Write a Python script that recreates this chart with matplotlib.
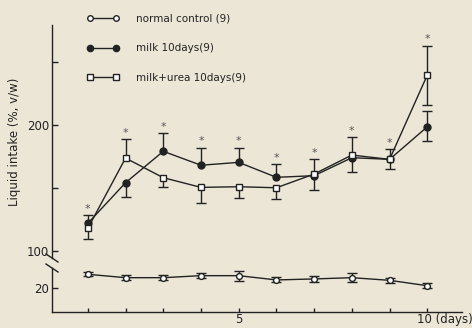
import matplotlib
matplotlib.use("Agg")
import matplotlib.pyplot as plt
import numpy as np
from matplotlib.lines import Line2D
from matplotlib.transforms import ScaledTranslation

nan = np.nan
days = np.arange(1, 11)

control = [30.9, 28.2, 28.2, 29.8, 29.8, 26.4, 27.2, 28.2, 26.1, 21.8]
control_err = [1.5, 1.8, 2.2, 2.0, 4.0, 2.0, 2.2, 3.8, 2.0, 2.2]

# error bars drawn only on one side for most days (nan = not drawn)
milk = [121.8, 154.1, 179.1, 168.0, 170.3, 158.4, 159.7, 174.0, 172.7, 198.6]
milk_up = [6.6, nan, 14.3, 13.9, 11.6, 10.3, nan, nan, 8.0, 12.8]
milk_lo = [nan, 11.1, nan, nan, nan, nan, 11.4, 11.2, nan, 11.1]

urea = [117.8, 173.7, 158.1, 150.4, 150.9, 150.1, 161.0, 176.1, 172.7, 239.8]
urea_up = [nan, 15.2, nan, nan, nan, nan, 11.7, 14.1, nan, 23.3]
urea_lo = [8.5, nan, 7.2, 12.2, 9.2, 9.2, nan, nan, 8.0, 24.1]

labels = ["normal control (9)", "milk 10days(9)", "milk+urea 10days(9)"]

bg = "#ece6d7"
ink = "#222222"

plt.rcParams["font.family"] = "DejaVu Sans"
fig = plt.figure(figsize=(4.72, 3.28), dpi=100, facecolor=bg)
W, H = 472.0, 328.0
left, right = 52 / W, 462 / W
ax = fig.add_axes([left, (H - 258) / H, right - left, (258 - 25) / H], facecolor=bg)
axl = fig.add_axes([left, (H - 312) / H, right - left, (312 - 268) / H], facecolor=bg, sharex=ax)


def half_bars(a, y, lo, up, **kw):
    y = np.array(y)
    lo = np.array(lo)
    up = np.array(up)
    a.errorbar(days, y, yerr=[np.nan_to_num(lo), np.nan_to_num(up)], capsize=0,
               color=ink, lw=1.0, elinewidth=1.0, **kw)
    ends = np.concatenate([y - lo, y + up])
    a.plot(np.concatenate([days, days]), ends, ls="none", marker="_", ms=6.5,
           mew=1.0, color=ink)


half_bars(ax, milk, milk_lo, milk_up, fmt="-o", ms=5, mfc=ink, mec=ink, zorder=3)
half_bars(ax, urea, urea_lo, urea_up, fmt="-s", ms=5, mfc="white", mec=ink, mew=1.0, zorder=3)
half_bars(axl, control, control_err, control_err, fmt="-o", ms=4.2, mfc="white", mec=ink, mew=1.0, zorder=3)

# significance stars above upper error bar
tops = np.nanmax(np.vstack([np.array(milk) + np.nan_to_num(milk_up),
                            np.array(urea) + np.nan_to_num(urea_up)]), axis=0)
for d, t in zip(days, tops):
    ax.annotate("*", (d, t), xytext=(0, 1), textcoords="offset points",
                ha="center", va="bottom", fontsize=8, color="#555555")

ax.set_xlim(0.05, 10.92)
ax.set_ylim(94.2, 279.6)
axl.set_ylim(0.9, 35.9)

ax.set_yticks([100, 150, 200, 250])
ax.set_yticklabels(["100", "", "200", ""])
axl.set_yticks([20])
axl.set_xticks(days)
axl.set_xticklabels(["", "", "", "", "5", "", "", "", "", "10 (days)"])

for a in (ax, axl):
    for s in ("top", "right"):
        a.spines[s].set_visible(False)
    for s in a.spines.values():
        s.set_color(ink)
        s.set_linewidth(1.0)
    a.tick_params(direction="in", length=4, width=1.0, colors=ink, labelsize=8.5, pad=2)
ax.spines["bottom"].set_visible(False)
ax.tick_params(axis="x", bottom=False, labelbottom=False)
axl.tick_params(axis="x", length=3, pad=1)

last = axl.get_xticklabels()[-1]
last.set_horizontalalignment("right")
last.set_transform(last.get_transform() + ScaledTranslation(45 / 100, 0, fig.dpi_scale_trans))

ax.set_ylabel("Liquid intake (%, v/w)", fontsize=8.5, color=ink)
ax.yaxis.set_label_coords(-0.075, 0.5)

# axis break marks
for yb in (258, 268):
    fig.add_artist(Line2D([46 / W, 58 / W], [(H - yb + 4) / H, (H - yb - 4) / H],
                          color=ink, lw=1.0))

handles = [
    Line2D([], [], color=ink, lw=1.0, marker="o", ms=4, mfc="white", mec=ink),
    Line2D([], [], color=ink, lw=1.0, marker="o", ms=4.5, mfc=ink, mec=ink),
    Line2D([], [], color=ink, lw=1.0, marker="s", ms=4.5, mfc="white", mec=ink),
]
fig.legend(handles, labels, loc="upper left", bbox_to_anchor=(77 / W, 1 - 4 / H),
           numpoints=2, frameon=False, fontsize=7.5, handlelength=3.1,
           handletextpad=1.7, labelspacing=1.9, labelcolor=ink)

fig.savefig("out.png", dpi=100, facecolor=bg)
